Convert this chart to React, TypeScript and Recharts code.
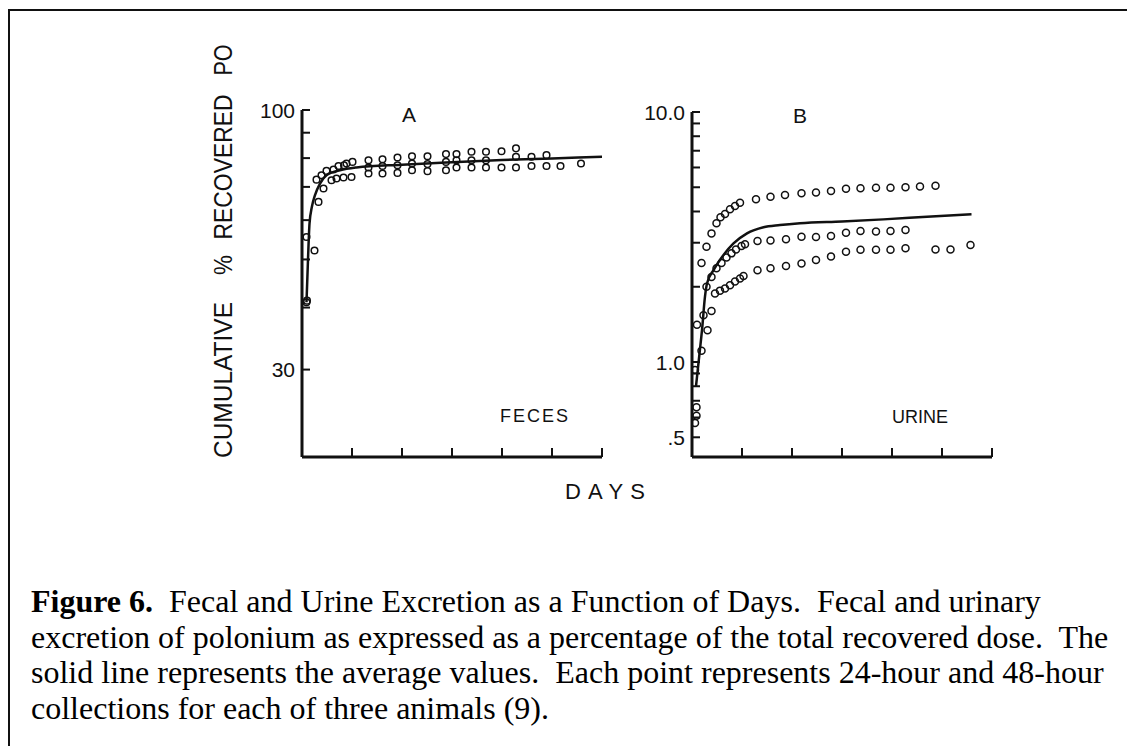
import React from 'react';
import { ComposedChart, Scatter, Line, XAxis, YAxis } from 'recharts';

// Panel A: feces, cumulative % of recovered Po (log axis)
const FECES_DAYS_1 = [0.9, 2.9, 3.9, 4.9, 6.3, 7.3, 8.4, 8.9, 10.1, 13.3, 16.1, 19.1, 22.0, 25.1, 28.8, 30.9, 33.9, 36.8, 39.9, 42.8, 45.9, 48.9];
const FECES_PCT_1 = [55.5, 72.4, 73.9, 75.4, 75.9, 77.1, 77.4, 78.0, 78.6, 79.2, 79.6, 80.2, 80.7, 80.7, 81.5, 81.5, 82.4, 82.4, 82.6, 83.7, 80.5, 81.1];
const FECES_DAYS_2 = [0.9, 3.3, 4.3, 5.9, 6.9, 8.3, 9.9, 13.3, 16.1, 19.1, 22.0, 25.1, 28.8, 30.9, 33.9, 36.8, 42.8];
const FECES_PCT_2 = [41.0, 65.3, 69.5, 72.2, 72.8, 73.1, 73.3, 76.6, 77.1, 77.4, 78.0, 77.8, 78.6, 79.2, 79.2, 79.2, 80.5];
const FECES_DAYS_3 = [1.0, 2.5, 13.3, 16.1, 19.1, 22.0, 25.1, 28.8, 30.9, 33.9, 36.8, 39.9, 42.8, 45.9, 48.9, 51.7, 55.8];
const FECES_PCT_3 = [41.3, 52.1, 74.5, 74.5, 74.7, 75.6, 75.3, 75.6, 76.6, 76.6, 76.6, 76.6, 76.6, 77.1, 77.1, 77.1, 78.0];
const FECES_AVG_DAYS = [0.9, 1.2, 1.5, 2.0, 2.6, 3.6, 4.9, 7.6, 10.9, 20, 30, 40, 50, 60];
const FECES_AVG_PCT = [41, 50, 59, 64, 67.4, 71.1, 73.9, 75.6, 76.6, 77.6, 78.5, 79.3, 79.9, 80.5];

// Panel B: urine
const URINE_DAYS_1 = [0.9, 1.0, 1.9, 2.9, 3.9, 4.9, 5.7, 6.6, 7.6, 8.6, 9.6, 12.8, 15.7, 18.6, 21.9, 24.8, 27.8, 30.8, 33.7, 36.8, 39.7, 42.7, 45.6, 48.7];
const URINE_PCT_1 = [0.66, 1.41, 2.49, 2.89, 3.27, 3.59, 3.79, 3.91, 4.08, 4.21, 4.34, 4.48, 4.58, 4.66, 4.73, 4.76, 4.83, 4.93, 4.95, 4.98, 4.98, 5.0, 5.03, 5.07];
const URINE_DAYS_2 = [0.6, 0.6, 1.9, 2.9, 3.9, 4.9, 5.9, 6.9, 7.9, 8.8, 9.9, 10.6, 13.1, 15.7, 18.8, 21.9, 24.8, 27.8, 30.8, 33.7, 36.8, 39.7, 42.7];
const URINE_PCT_2 = [0.57, 0.93, 1.11, 2.0, 2.19, 2.37, 2.49, 2.62, 2.72, 2.82, 2.91, 2.96, 3.05, 3.06, 3.10, 3.17, 3.16, 3.19, 3.29, 3.34, 3.33, 3.34, 3.37];
const URINE_DAYS_3 = [0.9, 2.3, 3.1, 3.9, 4.6, 5.6, 6.6, 7.6, 8.6, 9.6, 10.3, 13.1, 15.7, 18.8, 21.9, 24.8, 27.8, 30.8, 33.7, 36.8, 39.7, 42.7, 48.7, 51.7, 55.7];
const URINE_PCT_3 = [0.61, 1.54, 1.34, 1.60, 1.88, 1.93, 1.97, 2.03, 2.10, 2.16, 2.21, 2.33, 2.37, 2.42, 2.48, 2.56, 2.64, 2.76, 2.81, 2.81, 2.81, 2.85, 2.82, 2.82, 2.94];
const URINE_AVG_DAYS = [0.8, 1.5, 2.0, 2.6, 3.0, 4.3, 6.3, 8.3, 11, 14.3, 17.6, 21.6, 30, 38.3, 47, 55.9];
const URINE_AVG_PCT = [0.8, 1.08, 1.34, 1.83, 2.06, 2.33, 2.68, 2.98, 3.27, 3.46, 3.53, 3.59, 3.65, 3.72, 3.81, 3.9];

const DAY_TICKS = [0, 10, 20, 30, 40, 50, 60];
const FECES_TICKS = [30, 40, 50, 60, 70, 80, 90, 100];
const FECES_LABELS: Record<string, string> = { '30': '30', '100': '100' };
const URINE_TICKS = [0.5, 0.6, 0.7, 0.8, 0.9, 1, 2, 3, 4, 5, 6, 7, 8, 9, 10];
const URINE_LABELS: Record<string, string> = { '0.5': '.5', '1': '1.0', '10': '10.0' };

const CAPTION_LINES = [
  '  Fecal and Urine Excretion as a Function of Days.  Fecal and urinary',
  'excretion of polonium as expressed as a percentage of the total recovered dose.  The',
  'solid line represents the average values.  Each point represents 24-hour and 48-hour',
  'collections for each of three animals (9).',
];

const toPts = (days: number[], vals: number[]) => days.map((d, i) => ({ day: d, value: vals[i] }));

const INK = '#111';
const SANS = '"Liberation Sans", Arial, sans-serif';
const AXIS_BOTTOM = 457;
const CHART_H = 480;

const ring = (r: number) => (p: any) => (
  <circle cx={p.cx} cy={p.cy} r={r} fill="none" stroke={INK} strokeWidth={1.5} />
);

const yTick = (axisX: number, labels: Record<string, string>) => (p: any) => {
  const lbl = labels[String(p.payload.value)];
  return (
    <g>
      <line x1={axisX} x2={axisX + 8} y1={p.y} y2={p.y} stroke={INK} strokeWidth={2} />
      {lbl && (
        <text x={axisX - 7} y={p.y + 7.5} textAnchor="end" fontSize={21} fontFamily={SANS} fill={INK}>
          {lbl}
        </text>
      )}
    </g>
  );
};

const xTick = (p: any) =>
  p.payload.value === 0 ? <g /> : (
    <line x1={p.x} x2={p.x} y1={AXIS_BOTTOM} y2={AXIS_BOTTOM - 9} stroke={INK} strokeWidth={2} />
  );

interface PanelProps {
  left: number;
  right: number;
  top: number;
  domain: [number, number];
  ticks: number[];
  labels: Record<string, string>;
  series: { day: number; value: number }[][];
  avg: { day: number; value: number }[];
  r: number;
}

const Panel: React.FC<PanelProps> = ({ left, right, top, domain, ticks, labels, series, avg, r }) => (
  <div style={{ position: 'absolute', left: 0, top: 0 }}>
    <ComposedChart
      width={1127}
      height={CHART_H}
      margin={{ top, left: left - 1, right: 1127 - right, bottom: CHART_H - AXIS_BOTTOM - 1 }}
    >
      <XAxis
        type="number"
        dataKey="day"
        domain={[0, 60]}
        ticks={DAY_TICKS}
        interval={0}
        height={1}
        allowDataOverflow
        axisLine={{ stroke: INK, strokeWidth: 3 }}
        tickLine={false}
        tick={xTick}
      />
      <YAxis
        type="number"
        dataKey="value"
        scale="log"
        domain={domain}
        ticks={ticks}
        interval={0}
        width={1}
        allowDataOverflow
        axisLine={{ stroke: INK, strokeWidth: 3 }}
        tickLine={false}
        tick={yTick(left, labels)}
      />
      {series.map((s, i) => (
        <Scatter key={i} data={s} dataKey="value" shape={ring(r)} isAnimationActive={false} />
      ))}
      <Line
        data={avg}
        dataKey="value"
        type="monotone"
        stroke={INK}
        strokeWidth={2.5}
        dot={false}
        isAnimationActive={false}
      />
    </ComposedChart>
  </div>
);

export default function App() {
  return (
    <div style={{ position: 'absolute', left: 0, top: 0, width: 1127, height: 746, overflow: 'hidden', background: '#fff' }}>
      <div style={{ position: 'absolute', left: 8, top: 9, width: 1300, height: 900, border: `2px solid ${INK}` }} />
      <Panel
        left={302}
        right={602}
        top={110}
        domain={[20, 100]}
        ticks={FECES_TICKS}
        labels={FECES_LABELS}
        series={[toPts(FECES_DAYS_1, FECES_PCT_1), toPts(FECES_DAYS_2, FECES_PCT_2), toPts(FECES_DAYS_3, FECES_PCT_3)]}
        avg={toPts(FECES_AVG_DAYS, FECES_AVG_PCT)}
        r={3.3}
      />
      <Panel
        left={692}
        right={992}
        top={112}
        domain={[0.417, 10]}
        ticks={URINE_TICKS}
        labels={URINE_LABELS}
        series={[toPts(URINE_DAYS_1, URINE_PCT_1), toPts(URINE_DAYS_2, URINE_PCT_2), toPts(URINE_DAYS_3, URINE_PCT_3)]}
        avg={toPts(URINE_AVG_DAYS, URINE_AVG_PCT)}
        r={3.5}
      />
      <svg width={1127} height={746} style={{ position: 'absolute', left: 0, top: 0, pointerEvents: 'none' }}>
        <g fontFamily={SANS} fill={INK}>
          <text transform="translate(232,60) rotate(-90)" textAnchor="middle" fontSize={25} textLength={31} lengthAdjust="spacingAndGlyphs">PO</text>
          <text transform="translate(232,167) rotate(-90)" textAnchor="middle" fontSize={25} textLength={145} lengthAdjust="spacingAndGlyphs">RECOVERED</text>
          <text transform="translate(232,265) rotate(-90)" textAnchor="middle" fontSize={25} textLength={20} lengthAdjust="spacingAndGlyphs">%</text>
          <text transform="translate(232,380) rotate(-90)" textAnchor="middle" fontSize={25} textLength={156} lengthAdjust="spacingAndGlyphs">CUMULATIVE</text>
          <text x={409} y={121.5} textAnchor="middle" fontSize={21}>A</text>
          <text x={800} y={123} textAnchor="middle" fontSize={21}>B</text>
          <text x={534} y={422} textAnchor="middle" fontSize={18} textLength={68}>FECES</text>
          <text x={920} y={423} textAnchor="middle" fontSize={18} textLength={56}>URINE</text>
          <text x={605} y={499} textAnchor="middle" fontSize={22} textLength={80}>DAYS</text>
        </g>
      </svg>
      <div
        style={{
          position: 'absolute',
          left: 31,
          top: 584,
          fontFamily: '"Liberation Serif", "Times New Roman", serif',
          fontSize: 32,
          lineHeight: '35.5px',
          whiteSpace: 'pre',
          color: '#000',
        }}
      >
        <div>
          <b>Figure 6.</b>
          {CAPTION_LINES[0]}
        </div>
        {CAPTION_LINES.slice(1).map((l) => (
          <div key={l}>{l}</div>
        ))}
      </div>
    </div>
  );
}
